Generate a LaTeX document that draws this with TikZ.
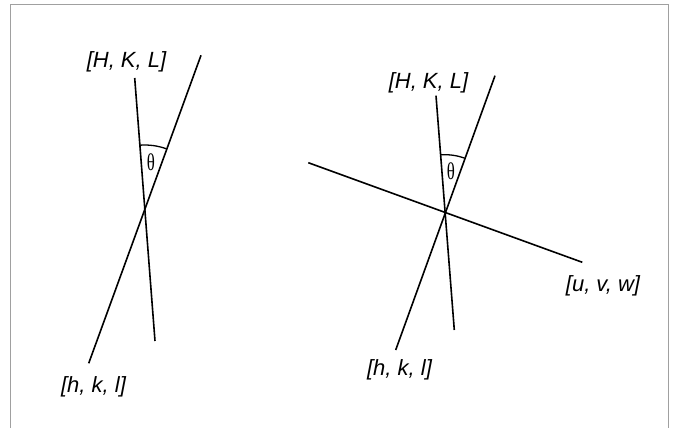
\documentclass[tikz,border=0pt]{standalone}
\usepackage{fontspec}
\setmainfont{Liberation Sans}
\newfontfamily\thetafont{Liberation Serif}
\definecolor{framegray}{RGB}{160,160,160}
\usetikzlibrary{positioning}

\begin{document}
\begin{tikzpicture}[x=1pt,y=-1pt,
  dirline/.style={line width=1.6pt,black},
  angarc/.style={line width=1.3pt,black},
  dirlabel/.style={font=\fontsize{22}{24}\selectfont\itshape,anchor=base,inner sep=0pt},
  anglabel/.style={font=\thetafont\fontsize{24}{26}\selectfont,inner sep=0pt,xscale=0.7}]
  \useasboundingbox (0,0) rectangle (675,428);
  % Frame
  \draw[framegray,line width=1pt] (10,428) -- (10,5) -- (668,5) -- (668,428);
  % Left panel: end points and crossing
  \coordinate (lO) at (144.7,209);
  \coordinate (lHtop) at (134.7,78);
  \coordinate (lHbot) at (155,341);
  \coordinate (lhtop) at (201,55.3);
  \coordinate (lhbot) at (88.7,363.3);
  \draw[dirline] (lHtop) -- (lHbot);
  \draw[dirline] (lhtop) -- (lhbot);
  \draw[angarc] (lO) ++(-69.9:64) arc[start angle=-69.9,end angle=-94.4,radius=64];
  \node[anglabel] (ltheta) at (151,162) {θ};
  \node[dirlabel] (lHKL) at (126.5,67.3) {[H, K, L]};
  \node[dirlabel] (lhkl) at (93.5,392) {[h, k, l]};
  % Right panel: end points and crossing
  \coordinate (rO) at (445,211.7);
  \coordinate (rHtop) at (436,95.7);
  \coordinate (rHbot) at (454.3,330);
  \coordinate (rhtop) at (495,75.7);
  \coordinate (rhbot) at (395.7,350);
  \coordinate (ruleft) at (308.3,162.7);
  \coordinate (ruright) at (582.3,262.3);
  \draw[dirline] (rHtop) -- (rHbot);
  \draw[dirline] (rhtop) -- (rhbot);
  \draw[dirline] (ruleft) -- (ruright);
  \draw[angarc] (rO) ++(-69.8:57) arc[start angle=-69.8,end angle=-94.4,radius=57];
  \node[anglabel] (rtheta) at (451,171.5) {θ};
  \node[dirlabel] (rHKL) at (428.5,88.3) {[H, K, L]};
  \node[dirlabel] (ruvw) at (603,291.5) {[u, v, w]};
  \node[dirlabel] (rhkl) at (399.5,375) {[h, k, l]};
\end{tikzpicture}
\end{document}
